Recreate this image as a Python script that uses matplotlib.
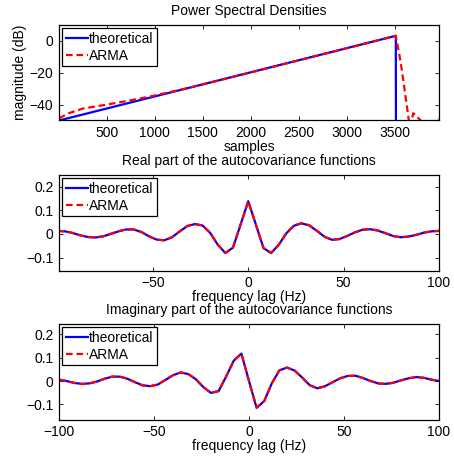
import numpy as np
import matplotlib
matplotlib.use("Agg")
import matplotlib.pyplot as plt
from matplotlib.ticker import FuncFormatter

plt.rcParams['font.family'] = ['Liberation Sans', 'DejaVu Sans']
plt.rcParams['font.size'] = 10
plt.rcParams['axes.unicode_minus'] = True

# ---- Power spectral densities (dB) ----
psd_theo_samples = [1, 3510, 3513, 3960]
psd_theo_db = [-50.0, 3.2, -120.0, -120.0]
psd_arma_samples = [1, 100, 250, 500, 750, 1000, 1250, 1500, 2000, 2500, 3000,
                    3510, 3560, 3600, 3646, 3665, 3691, 3720, 3770, 3850, 3930, 3960]
psd_arma_db = [-48.6, -45.5, -42.5, -40.0, -37.3, -34.3, -30.9, -27.3, -19.8, -12.2, -4.6,
               3.2, -13.0, -30.0, -50.0, -54.0, -45.4, -47.0, -50.0, -60.0, -53.0, -49.0]

# ---- Autocovariance functions (lags in Hz) ----
lags = [-100, -96, -92, -88, -84, -80, -76, -72, -68, -64, -60, -56, -52, -48, -44, -40,
        -36, -32, -28, -24, -20, -16, -12, -8, -4, 0, 4, 8, 12, 16, 20, 24, 28, 32, 36,
        40, 44, 48, 52, 56, 60, 64, 68, 72, 76, 80, 84, 88, 92, 96, 100]

real_theo = [0.013, 0.011, 0.004, -0.006, -0.013, -0.015, -0.010, 0.000, 0.011, 0.019,
             0.019, 0.008, -0.010, -0.024, -0.027, -0.014, 0.010, 0.033, 0.042, 0.036,
             0.005, -0.045, -0.081, -0.058, 0.040, 0.139, 0.040, -0.060, -0.081, -0.046,
             0.003, 0.035, 0.045, 0.036, 0.013, -0.012, -0.025, -0.021, -0.008, 0.007,
             0.018, 0.020, 0.014, 0.003, -0.009, -0.014, -0.011, -0.004, 0.005, 0.011, 0.013]
real_arma = [0.013, 0.011, 0.004, -0.006, -0.013, -0.015, -0.010, 0.001, 0.012, 0.019,
             0.019, 0.008, -0.010, -0.024, -0.027, -0.014, 0.011, 0.034, 0.042, 0.036,
             0.005, -0.045, -0.081, -0.058, 0.040, 0.138, 0.040, -0.060, -0.081, -0.046,
             0.004, 0.036, 0.046, 0.037, 0.014, -0.012, -0.025, -0.022, -0.008, 0.007,
             0.018, 0.021, 0.015, 0.003, -0.009, -0.014, -0.011, -0.004, 0.006, 0.011, 0.013]

imag_theo = [0.006, 0.000, -0.008, -0.012, -0.010, -0.002, 0.010, 0.019, 0.019, 0.010,
             -0.005, -0.018, -0.022, -0.015, 0.005, 0.025, 0.037, 0.030, 0.008, -0.026,
             -0.051, -0.043, 0.020, 0.088, 0.118, 0.000, -0.115, -0.086, -0.010, 0.046,
             0.058, 0.045, 0.015, -0.018, -0.031, -0.022, -0.005, 0.012, 0.022, 0.023,
             0.013, 0.000, -0.010, -0.012, -0.007, 0.003, 0.012, 0.017, 0.014, 0.006, 0.000]
imag_arma = [0.006, 0.000, -0.008, -0.013, -0.010, -0.002, 0.010, 0.019, 0.019, 0.010,
             -0.005, -0.019, -0.022, -0.015, 0.005, 0.025, 0.037, 0.031, 0.008, -0.026,
             -0.051, -0.043, 0.020, 0.088, 0.117, 0.000, -0.114, -0.086, -0.010, 0.046,
             0.058, 0.045, 0.015, -0.018, -0.031, -0.023, -0.005, 0.012, 0.022, 0.023,
             0.013, 0.000, -0.010, -0.013, -0.007, 0.003, 0.012, 0.017, 0.014, 0.006, 0.000]

legend_labels = ["theoretical", "ARMA"]

fig = plt.figure(figsize=(4.54, 4.58), dpi=100)
W, H = 454.0, 458.0
def box(l, t, r, b):
    return [l / W, 1 - b / H, (r - l) / W, (b - t) / H]

ax1 = fig.add_axes(box(59, 25, 439, 120.5))
ax2 = fig.add_axes(box(59, 175, 439, 270.5))
ax3 = fig.add_axes(box(59, 324, 439, 419.5))

fmt = FuncFormatter(lambda v, p: ("%g" % v).replace("-", "\u2212"))

def style(ax):
    ax.tick_params(direction='in', top=True, right=True, length=3, width=0.6, pad=4,
                   labelsize=10)
    for s in ax.spines.values():
        s.set_linewidth(0.9)
    ax.xaxis.set_major_formatter(fmt)
    ax.yaxis.set_major_formatter(fmt)

def legend(ax):
    leg = ax.legend(loc='upper left', fancybox=False, edgecolor='black', framealpha=1,
                    handlelength=1.6, handletextpad=0.1, borderpad=0.25,
                    labelspacing=0.25, borderaxespad=0.22, fontsize=10)
    leg.get_frame().set_linewidth(0.9)

lw = 1.6
dash = (0, (3.0, 1.7))

ax1.plot(psd_theo_samples, psd_theo_db, color='blue', lw=lw, label=legend_labels[0])
ax1.plot(psd_arma_samples, psd_arma_db, color='red', lw=lw, ls=dash, label=legend_labels[1])
ax1.set_xlim(1, 3960)
ax1.set_ylim(-50, 10)
ax1.set_xticks([500, 1000, 1500, 2000, 2500, 3000, 3500])
ax1.set_yticks([-40, -20, 0])
ax1.set_title("Power Spectral Densities", fontsize=10, pad=7)
ax1.set_xlabel("samples", fontsize=10, labelpad=0)
ax1.set_ylabel("magnitude (dB)", fontsize=10, labelpad=2)
style(ax1)
legend(ax1)

ax2.plot(lags, real_theo, color='blue', lw=lw, label=legend_labels[0])
ax2.plot(lags, real_arma, color='red', lw=lw, ls=dash, label=legend_labels[1])
ax2.set_xlim(-99.2, 100)
ax2.set_ylim(-0.155, 0.25)
ax2.set_xticks([-50, 0, 50, 100])
ax2.set_yticks([-0.1, 0, 0.1, 0.2])
ax2.set_title("Real part of the autocovariance functions", fontsize=10, pad=7)
ax2.set_xlabel("frequency lag (Hz)", fontsize=10, labelpad=0)
style(ax2)
legend(ax2)

ax3.plot(lags, imag_theo, color='blue', lw=lw, label=legend_labels[0])
ax3.plot(lags, imag_arma, color='red', lw=lw, ls=dash, label=legend_labels[1])
ax3.set_xlim(-100, 100)
ax3.set_ylim(-0.165, 0.245)
ax3.set_xticks([-100, -50, 0, 50, 100])
ax3.set_yticks([-0.1, 0, 0.1, 0.2])
ax3.set_title("Imaginary part of the autocovariance functions", fontsize=10, pad=7)
ax3.set_xlabel("frequency lag (Hz)", fontsize=10, labelpad=0)
style(ax3)
legend(ax3)

fig.savefig("out.png", dpi=100)
